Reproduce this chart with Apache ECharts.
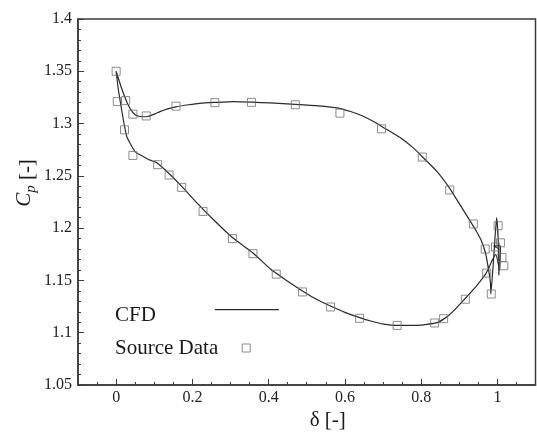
<!DOCTYPE html>
<html>
<head>
<meta charset="utf-8">
<script src="https://cdn.jsdelivr.net/npm/echarts@6/dist/echarts.min.js"></script>
<style>
html,body{margin:0;padding:0;background:#fff;}
#chart{width:537px;height:434px;}
</style>
</head>
<body>
<div id="chart"></div>
<script>
// CFD curve (delta, Cp) traced along the loop
const cfdDelta = [0,0.015,0.03,0.044,0.055,0.07,0.085,0.1,0.115,0.135,0.157,0.19,0.22,0.26,0.308,0.356,0.404,0.47,0.53,0.583,0.615,0.645,0.675,0.70,0.73,0.754,0.78,0.803,0.842,0.875,0.894,0.912,0.93,0.945,0.958,0.969,0.977,0.982,0.983,
  0.99,0.998,1.002,1.004,1.003,0.99,1.008,1.006,0.996,0.986,
  0.977,0.969,0.947,0.92,0.894,0.872,0.859,0.842,0.815,0.789,0.737,0.7016,0.67,0.639,0.6,0.5625,0.525,0.489,0.445,0.404,0.36,0.305,0.2555,0.215,0.172,0.14,0.107,0.089,0.072,0.05,0.037,0.028,0.019,0.006,0];
const cfdCp = [1.35,1.333,1.319,1.3105,1.3075,1.3065,1.307,1.309,1.3114,1.314,1.316,1.318,1.3194,1.3202,1.321,1.3205,1.3197,1.3184,1.317,1.3148,1.3115,1.3075,1.302,1.2965,1.29,1.2843,1.2765,1.2683,1.254,1.238,1.227,1.2165,1.206,1.197,1.188,1.176,1.16,1.147,1.137,
  1.17,1.21,1.19,1.155,1.18,1.183,1.183,1.16,1.175,1.169,
  1.1616,1.156,1.1456,1.1345,1.1243,1.1165,1.113,1.1096,1.108,1.107,1.107,1.1083,1.111,1.1144,1.1195,1.1255,1.132,1.14,1.1505,1.1611,1.176,1.191,1.208,1.223,1.24,1.2518,1.2626,1.265,1.2683,1.273,1.281,1.2875,1.3034,1.332,1.35];

// Source data squares
const srcDelta = [0,0.003,0.025,0.044,0.079,0.157,0.259,0.355,0.470,0.587,0.696,0.803,0.875,0.937,1.002,0.968,1.008,0.995,1.012,1.017,0.972,0.984,0.916,0.859,0.8355,0.737,0.6387,0.5625,0.489,0.420,0.359,0.305,0.228,0.172,0.139,0.109,0.044,0.022];
const srcCp = [1.35,1.321,1.322,1.309,1.3073,1.3166,1.320,1.3203,1.318,1.310,1.295,1.268,1.2365,1.204,1.2023,1.180,1.186,1.182,1.172,1.164,1.157,1.137,1.132,1.1134,1.1093,1.107,1.1138,1.1246,1.139,1.156,1.1756,1.190,1.216,1.239,1.2508,1.2607,1.2695,1.294];

const xTickValues = [0,0.2,0.4,0.6,0.8,1];
const xRange = [-0.1, 1.1];
const yRange = [1.05, 1.4];
const yStep = 0.05;
const xMinorStep = 0.05;

const cfdData = cfdDelta.map((d,i)=>[d,cfdCp[i]]);
const srcData = srcDelta.map((d,i)=>[d,srcCp[i]]);

const FONT = '"Liberation Serif", "Times New Roman", serif';
const chart = echarts.init(document.getElementById('chart'), null, {renderer:'canvas'});
chart.setOption({
  animation: false,
  backgroundColor: '#fff',
  grid: {left: 78, top: 19, right: 1.5, bottom: 49, outerBoundsMode: 'none', containLabel: false,
         show: true, borderColor: '#3a3a3a', borderWidth: 1.5, backgroundColor: 'transparent'},
  legend: [
    {data: [{name:'CFD', icon:'path://M0,0L64,0L64,1.2L0,1.2Z M0,12L0.01,12L0.01,12.01L0,12.01Z', itemStyle:{color:'#2a2a2a', borderWidth:0}}],
     left: 115, top: 303, padding: 0, align: 'right', orient: 'vertical',
     itemWidth: 64, itemHeight: 12.01,
     textStyle: {fontFamily: FONT, fontSize: 21, color: '#1a1a1a', lineHeight: 24, padding: [0, 54, 0, 0]}},
    {data: [{name:'Source Data', icon:'rect', itemStyle:{color:'transparent', borderColor:'#707070', borderWidth:1}}],
     left: 115, top: 336, padding: 0, align: 'right', orient: 'vertical',
     itemWidth: 8, itemHeight: 8,
     textStyle: {fontFamily: FONT, fontSize: 21, color: '#1a1a1a', lineHeight: 24, padding: [0, 19, 0, 0]}}
  ],
  xAxis: [
    {type: 'value', min: xRange[0], max: xRange[1], position: 'bottom',
     name: 'δ [-]', nameLocation: 'middle', nameGap: 25, nameMoveOverlap: false,
     nameTextStyle: {fontFamily: FONT, fontSize: 21, color: '#1a1a1a', padding: [0,0,0,42]},
     axisLine: {show: true, onZero: false, lineStyle: {color: '#3a3a3a', width: 1.5}},
     axisTick: {show: true, inside: true, length: 6, customValues: xTickValues, lineStyle: {color: '#3a3a3a', width: 1}},
     axisLabel: {customValues: xTickValues, margin: 5, fontFamily: FONT, fontSize: 16, color: '#222'},
     splitLine: {show: false}},
    {type: 'value', min: xRange[0], max: xRange[1], interval: xMinorStep, position: 'bottom',
     axisLine: {show: false, onZero: false}, axisLabel: {show: false}, splitLine: {show: false},
     axisTick: {show: true, inside: true, length: 3, lineStyle: {color: '#3a3a3a', width: 1}}}
  ],
  yAxis: {
    type: 'value', min: yRange[0], max: yRange[1], interval: yStep,
    name: '{c|C}{p|p} [-]', nameLocation: 'middle', nameGap: 38, nameRotate: 90, nameMoveOverlap: false,
    nameTextStyle: {fontFamily: FONT, fontSize: 21, color: '#1a1a1a', padding: [0,0,0,38],
      rich: {
        c: {fontFamily: FONT, fontSize: 21, fontStyle: 'italic', lineHeight: 26, color: '#1a1a1a', verticalAlign: 'top', padding: [0,0,0,0]},
        p: {fontFamily: FONT, fontSize: 15, fontStyle: 'italic', lineHeight: 15, color: '#1a1a1a', verticalAlign: 'top', padding: [10,0,0,0]}
      }},
    axisLine: {show: true, onZero: false, lineStyle: {color: '#3a3a3a', width: 1.5}},
    axisTick: {show: true, inside: true, length: 6, lineStyle: {color: '#3a3a3a', width: 1}},
    minorTick: {show: true, splitNumber: 5, length: 3, lineStyle: {color: '#3a3a3a', width: 1}},
    axisLabel: {margin: 6, fontFamily: FONT, fontSize: 16, color: '#222'},
    splitLine: {show: false}, minorSplitLine: {show: false}
  },
  series: [
    {name: 'CFD', type: 'line', data: cfdData, xAxisIndex: 0, symbol: 'none', smooth: 0.15,
     lineStyle: {color: '#2a2a2a', width: 1.2}, itemStyle: {color: '#2a2a2a'}, z: 2},
    {name: 'Source Data', type: 'scatter', data: srcData, xAxisIndex: 0, symbol: 'rect', symbolSize: 8,
     itemStyle: {color: 'transparent', borderColor: '#707070', borderWidth: 1}, z: 3}
  ]
});
</script>
</body>
</html>
